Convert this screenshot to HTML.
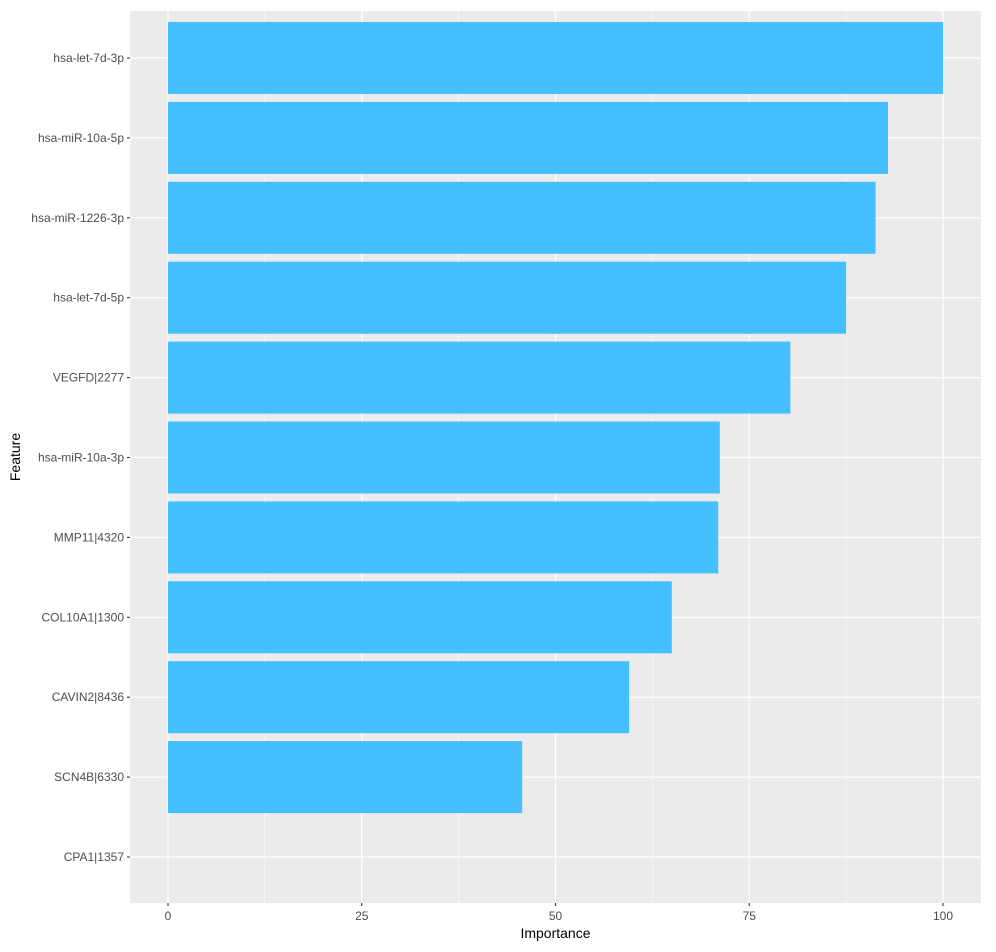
<!DOCTYPE html>
<html><head><meta charset="utf-8"><style>
body{margin:0;background:#fff;font-family:"Liberation Sans",sans-serif}
</style></head><body>
<svg id="chart" width="996" height="947" xmlns="http://www.w3.org/2000/svg" font-family="Liberation Sans, sans-serif"></svg>
<script>
const features=["hsa-let-7d-3p","hsa-miR-10a-5p","hsa-miR-1226-3p","hsa-let-7d-5p","VEGFD|2277","hsa-miR-10a-3p","MMP11|4320","COL10A1|1300","CAVIN2|8436","SCN4B|6330","CPA1|1357"];
const importance=[100,92.9,91.3,87.5,80.3,71.2,71.0,65.0,59.5,45.7,0];
const xTicks=[0,25,50,75,100];
const xMinor=[12.5,37.5,62.5,87.5];
const svg=document.getElementById('chart');
const NS="http://www.w3.org/2000/svg";
const pL=130,pR=981,pT=11,pB=903;
const x=v=>168+v*7.75;
const step=(pB-pT)/(features.length+0.16);
const yc=i=>58+i*79.9;
function mk(t,a,p){const e=document.createElementNS(NS,t);for(const k in a)e.setAttribute(k,a[k]);(p||svg).appendChild(e);return e;}
const bg=mk('rect',{x:pL,y:pT,width:pR-pL,height:pB-pT,fill:'#ebebeb'});


xMinor.forEach(v=>{const l=mk('line',{x1:x(v),x2:x(v),y1:pT,y2:pB,stroke:'#fff','stroke-width':0.6});

});
xTicks.forEach(v=>{const l=mk('line',{x1:x(v),x2:x(v),y1:pT,y2:pB,stroke:'#fff','stroke-width':1.2});

});
features.forEach((f,i)=>{const l=mk('line',{x1:pL,x2:pR,y1:yc(i),y2:yc(i),stroke:'#fff','stroke-width':1.2});

});
features.forEach((f,i)=>{
 const r=mk('rect',{x:x(0),y:yc(i)-36,width:Math.max(0,x(importance[i])-x(0)),height:72,fill:'#44bfff'});
 
 
 const tk=mk('line',{x1:pL-3,x2:pL,y1:yc(i),y2:yc(i),stroke:'#333','stroke-width':1.1});
 
 
 const t=mk('text',{x:pL-6,y:yc(i)+4,'text-anchor':'end','font-size':12,fill:'#4d4d4d'});t.textContent=f;
 
 
});
xTicks.forEach(v=>{
 const tk=mk('line',{x1:x(v),x2:x(v),y1:pB,y2:pB+3,stroke:'#333','stroke-width':1.1});
 
 
 const t=mk('text',{x:x(v),y:pB+17,'text-anchor':'middle','font-size':12,fill:'#4d4d4d'});t.textContent=v;
 
 
});
const xt=mk('text',{x:(pL+pR)/2,y:938,'text-anchor':'middle','font-size':14,fill:'#000'});xt.textContent='Importance';


const yt=mk('text',{x:20,y:(pT+pB)/2,'text-anchor':'middle','font-size':14,fill:'#000',transform:`rotate(-90 20 ${(pT+pB)/2})`});yt.textContent='Feature';


</script>
</body></html>
